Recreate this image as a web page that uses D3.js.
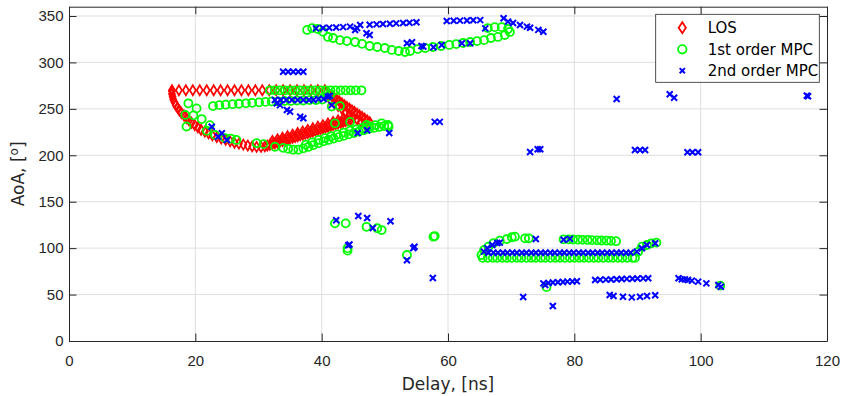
<!DOCTYPE html>
<html>
<head>
<meta charset="utf-8">
<script src="https://cdn.jsdelivr.net/npm/d3@7"></script>
<style>
  body { margin: 0; background: #fff; }
  svg { display: block; font-family: "DejaVu Sans", sans-serif; }
</style>
</head>
<body>
<svg id="chart" width="844" height="396"></svg>
<script>
// axis ticks
const xTicks = [0, 20, 40, 60, 80, 100, 120];
const yTicks = [0, 50, 100, 150, 200, 250, 300, 350];

// LOS (delay ns, AoA deg)
const losTopRow = [[16.3,270],[17.4,270],[18.5,270],[19.6,270],[20.7,270],[21.8,270],[22.9,270],[24.0,270],[25.1,270],[26.2,270],[27.3,270],[28.4,270],[29.5,270],[30.6,270],[31.7,270],[32.8,270],[33.9,270],[35.0,270],[36.1,270],[37.2,270],[38.3,270],[39.4,270],[40.5,270]];
const losLeftCurve = [[16.3,269],[16.3,266],[16.4,263],[16.5,260],[16.7,257],[16.9,254],[17.2,251],[17.5,248],[17.8,245.5],[18.2,243],[18.6,240],[19.0,237.5],[19.4,235],[19.9,232.5],[20.4,230],[20.9,227.5],[21.5,225.5],[22.1,223.5],[22.7,221.5],[23.4,219.5],[24.1,218],[24.8,216.5],[25.5,215],[26.2,213.5],[26.9,212.5],[27.6,211.5],[28.3,210.5],[29.0,209.5],[29.7,209],[30.4,209],[31.0,209.5]];
const losLowerBand = [[31.4,210.3],[31.8,211.2],[32.2,212],[32.6,212.9],[33.0,213.7],[33.4,214.6],[33.8,215.4],[34.2,216.3],[34.6,217.1],[35.0,218],[35.4,218.8],[35.8,219.7],[36.2,220.5],[36.6,221.4],[37.0,222.2],[37.4,223.1],[37.8,223.9],[38.2,224.8],[38.6,225.6],[39.0,226.5],[39.4,227.3],[39.8,228.2],[40.2,229],[40.6,229.9],[41.0,230.7],[41.4,231.6],[41.8,232.4],[42.2,233.3],[42.6,234.1],[43.0,235],[43.4,235.8],[43.8,236.7],[44.2,237.5],[44.6,238.4]];
const losUpperBand = [[32.2,215.5],[33.0,217.2],[33.8,218.9],[34.6,220.6],[35.4,222.3],[36.2,224],[37.0,225.7],[37.8,227.4],[38.6,229.1],[39.4,230.8],[40.2,232.5],[41.0,234.2],[41.8,235.9],[42.6,237.6],[43.4,239.3]];
const losDiagonal = [[40.8,268],[41.2,266],[41.6,264],[42.0,262],[42.4,260],[42.8,258],[43.2,256],[43.6,254],[44.0,252],[44.4,250.2],[44.8,248.4],[45.2,246.6],[45.6,244.8],[46.0,243],[46.4,241.2],[46.8,239.4],[47.2,237.6],[47.6,235.8],[41.4,259],[42.0,256],[42.6,253],[43.2,250],[43.8,247],[44.4,244],[45.0,241],[45.6,238.5],[46.2,236],[46.8,233.5]];

// 1st order MPC
const mpc1Row255 = [[22.8,253],[23.8,254],[24.8,254.5],[25.9,255],[26.9,255.5],[28.0,256],[29.0,256.5],[30.1,257],[31.1,257.5],[32.1,258],[33.1,258],[34.1,258.5],[35.1,258.5],[36.1,259],[37.1,259],[38.1,259.5],[39.1,259.5],[40.1,260],[40.9,263],[41.4,266]];
const mpc1Row270 = [[31.8,270],[32.6,270],[33.4,270],[34.2,270],[35.0,270],[35.8,270],[36.6,270],[37.4,270],[38.2,270],[39.0,270],[39.8,270],[40.6,270],[41.4,270],[42.2,270],[43.0,270],[43.8,270],[44.6,270],[45.4,270],[46.3,270]];
const mpc1LeftCurve = [[18.9,256],[20.2,250.5],[18.4,243.5],[19.7,243],[21.0,239],[22.3,232.5],[18.6,231],[21.8,226.5],[23.1,222],[24.7,218.5],[25.6,218],[26.5,216.5],[29.7,213],[30.8,212],[32.6,209.2]];
const mpc1LowerBand = [[33.9,208],[34.7,207],[35.5,206],[36.3,206],[37.1,207.5],[37.9,209],[38.7,211],[39.5,213],[40.3,215],[41.1,216.5],[41.9,218],[42.7,219.5],[43.5,221],[44.3,222.5],[45.1,224],[45.9,225.5],[46.7,227],[47.5,228.5],[48.3,229.5],[49.1,230.5],[49.9,231.5],[50.6,231]];
const mpc1UpperBand = [[37.5,211.5],[38.5,214],[39.5,216.5],[40.5,218.5],[41.5,220.5],[42.5,222.5],[43.5,224.5],[44.5,226.5],[45.5,228],[46.5,229.5],[47.5,231],[48.5,232.5]];
const mpc1Blob = [[42.9,253],[41.6,252.4],[44.5,236],[42.1,234.4],[47.1,232.6],[49.5,234.4],[50.5,232.6]];
const mpc1Top = [[37.7,335],[38.5,337],[39.4,336],[40.2,333],[41.0,327.4],[41.8,326.3],[42.9,324],[44.0,323],[45.3,322],[46.4,320],[47.6,317.7],[48.8,316.6],[50.0,315.5],[51.1,313.4],[52.2,312.3],[53.2,311.2],[54.0,312.3],[55.2,314.4],[56.4,315.5],[57.6,316.6],[58.9,317.7],[60.2,318.8],[61.3,319.8],[62.4,320.9],[63.5,322],[64.6,323],[65.7,324],[66.8,326.3],[67.9,327.4],[69.0,329.5],[69.8,332.8],[69.5,336],[68.5,338],[67.4,338],[66.3,337]];
const mpc1Scatter = [[42.1,126.7],[43.8,126.7],[47.1,123],[48.8,121.4],[49.5,119.5],[44.1,99.8],[44.1,97.3],[53.5,92.6],[57.7,112.3],[57.9,113],[75.6,58],[103.1,59.6]];
const mpc1RightCurve = [[65.3,92.6],[65.7,98],[66.4,101.6],[67.2,105.5],[68.2,108],[69.3,109.8],[70.1,111.7],[70.6,112.3],[72.2,110.6],[72.8,110.6]];
const mpc1Row90 = [[65.5,89.5],[66.3,89.5],[67.1,89.5],[67.8,89.5],[68.6,89.5],[69.3,89.5],[70.1,89.5],[70.9,89.5],[71.6,89.5],[72.4,89.5],[73.2,89.5],[73.9,89.5],[74.7,89.5],[75.4,89.5],[76.2,89.5],[77.0,89.5],[77.7,89.5],[78.5,89.5],[79.3,89.5],[80.0,89.5],[80.8,89.5],[81.5,89.5],[82.3,89.5],[83.1,89.5],[83.8,89.5],[84.6,89.5],[85.4,89.5],[86.1,89.5],[86.9,89.5],[87.6,89.5],[88.4,89.5],[89.2,89.5],[89.6,89.5],[90.1,96],[90.7,101.6],[91.5,103.4],[92.2,105.2],[93.0,105.9]];
const mpc1Row109 = [[78.3,109.5],[79.1,109.5],[79.8,109.3],[80.6,109.1],[81.3,109],[82.1,108.8],[82.8,108.6],[83.6,108.4],[84.3,108.2],[85.1,108],[85.8,107.8],[86.6,107.5]];

// 2nd order MPC
const mpc2Top = [[39.1,336.7],[40.2,337],[41.2,337.3],[42.3,337.6],[43.4,338],[44.5,338.5],[45.3,334.9],[45.6,337],[46.1,340.3],[47.1,331.4],[47.6,329.5],[47.6,340.5],[48.7,341],[49.7,341.3],[50.8,341.7],[51.8,342],[52.9,342.4],[53.9,342.8],[55.0,343.2],[59.8,344.6],[60.9,344.8],[61.9,345],[63.0,345.2],[64.0,345.4],[65.1,345.5],[68.8,347.5],[69.5,343.9],[70.3,342.5],[71.4,340.3],[72.5,338.5],[73.0,337.4],[74.3,335],[75.1,333]];
const mpc2TopMid = [[53.5,320.6],[54.3,321.7],[55.8,317.7],[56.1,317],[57.7,316.3],[59.0,318.8],[62.2,320.6],[63.5,320.6],[65.9,336.7]];
const mpc2Row290 = [[33.9,290],[34.7,290],[35.5,290],[36.3,290],[37.1,290]];
const mpc2Row260 = [[32.6,259.5],[33.5,259.5],[34.4,259.5],[35.3,259.5],[36.2,259.5],[37.1,259.5],[38.0,259.5],[38.7,259.5],[39.5,260.6],[40.3,260.6],[41.0,263],[41.3,264],[41.6,254],[32.9,256],[33.4,254],[34.5,248.8],[35.0,247],[36.6,241.5],[37.1,239.8]];
const mpc2Left = [[22.6,230.8],[23.6,220],[24.2,223.7],[25.0,216.5],[45.7,224],[47.2,227],[50.7,224],[57.9,236],[58.7,236]];
const mpc2Far = [[86.7,260.6],[95.1,265.7],[95.8,262],[116.8,264.2],[117.0,263.5],[89.6,205.7],[90.4,205.7],[91.2,205.7],[97.9,203.2],[98.7,203.2],[99.6,203.2],[73.0,203.5],[74.2,206.5],[74.6,206.5]];
const mpc2Scatter = [[42.3,130],[45.8,134.6],[47.2,132.5],[48.1,121.7],[50.9,129],[44.2,103],[44.4,104],[54.5,100],[54.7,101.5],[53.5,87],[57.6,67.8],[71.9,47.4],[76.6,37.7],[73.9,109.8],[78.3,109],[79.3,110],[75.4,60.3]];
const mpc2Row95 = [[65.7,96.2],[66.2,100],[67.0,103.4],[67.8,105.5],[68.2,105.9],[66.4,95],[67.2,95],[67.9,95],[68.7,95],[69.4,95],[70.2,95],[70.9,95],[71.7,95],[72.4,95],[73.2,95],[73.9,95],[74.7,95],[75.4,95],[76.2,95],[76.9,95],[77.7,95],[78.4,95],[79.2,95],[79.9,95],[80.7,95],[81.4,95],[82.2,95],[82.9,95],[83.7,95],[84.4,95],[85.2,95],[85.9,95],[86.7,95],[87.4,95],[88.2,95],[88.9,95],[89.9,96.2],[90.7,99.8],[91.5,103.4],[92.8,105.2]];
const mpc2Row64 = [[75.1,62.1],[75.9,62.5],[76.6,63],[77.4,63.3],[78.2,63.6],[78.9,63.9],[79.7,64.1],[80.4,64.3]];
const mpc2Row67 = [[83.3,65.7],[84.1,65.9],[85.0,66.1],[85.8,66.3],[86.7,66.5],[87.5,66.7],[88.3,66.9],[89.2,67.1],[90.0,67.3],[90.9,67.4],[91.7,67.5]];
const mpc2Row48 = [[85.6,49.5],[86.2,48.5],[87.7,47.7],[89.1,47],[90.4,47.7],[91.5,48.5],[92.8,49.2]];
const mpc2Tail = [[96.5,67.5],[97.0,66.4],[97.5,66.4],[98.0,65.7],[98.6,65],[99.6,63.9],[100.9,62.1],[102.8,60.3],[103.2,58.5]];

const losPoints = [...losTopRow, ...losLeftCurve, ...losLowerBand, ...losUpperBand, ...losDiagonal];
const mpc1Points = [...mpc1Row255, ...mpc1Row270, ...mpc1LeftCurve, ...mpc1LowerBand, ...mpc1UpperBand, ...mpc1Blob, ...mpc1Top, ...mpc1Scatter, ...mpc1RightCurve, ...mpc1Row90, ...mpc1Row109];
const mpc2Points = [...mpc2Top, ...mpc2TopMid, ...mpc2Row290, ...mpc2Row260, ...mpc2Left, ...mpc2Far, ...mpc2Scatter, ...mpc2Row95, ...mpc2Row64, ...mpc2Row67, ...mpc2Row48, ...mpc2Tail];

const svg = d3.select("#chart");
const plotLeft = 69, plotRight = 827, plotTop = 6.7, plotBottom = 341;
const axisColor = "#262626";

const x = d3.scaleLinear().domain([0, 120]).range([plotLeft, plotRight]);
const y = d3.scaleLinear().domain([0, 360]).range([plotBottom, plotTop]);

// grid
const grid = svg.append("g").attr("stroke", "#dfdfdf").attr("stroke-width", 1);
grid.selectAll("line.gx").data(xTicks.slice(1, -1)).enter().append("line")
  .attr("x1", d => x(d)).attr("x2", d => x(d)).attr("y1", plotTop).attr("y2", plotBottom);
grid.selectAll("line.gy").data(yTicks.slice(1)).enter().append("line")
  .attr("x1", plotLeft).attr("x2", plotRight).attr("y1", d => y(d)).attr("y2", d => y(d));

// markers
const diamond = "M0,-5L3,0L0,5L-3,0Z";
const cross = "M-3,-3L3,3M-3,3L3,-3";

const marks = svg.append("g");
marks.append("g").selectAll("path").data(losPoints).enter().append("path")
  .attr("d", diamond)
  .attr("transform", d => `translate(${x(d[0])},${y(d[1])})`)
  .attr("fill", "none").attr("stroke", "#ff0000").attr("stroke-width", 1.7);
marks.append("g").selectAll("circle").data(mpc1Points).enter().append("circle")
  .attr("cx", d => x(d[0])).attr("cy", d => y(d[1])).attr("r", 4)
  .attr("fill", "none").attr("stroke", "#00ff00").attr("stroke-width", 1.8);
marks.append("g").selectAll("path").data(mpc2Points).enter().append("path")
  .attr("d", cross)
  .attr("transform", d => `translate(${x(d[0])},${y(d[1])})`)
  .attr("fill", "none").attr("stroke", "#0000ff").attr("stroke-width", 2);

// axes
const tickLen = 7.5;
const styleAxis = g => {
  g.select(".domain").attr("stroke", axisColor).attr("fill", "none");
  g.selectAll(".tick line").attr("stroke", axisColor);
  g.selectAll(".tick text").attr("fill", axisColor).style("font-size", "15px");
};
svg.append("g").attr("transform", `translate(0,${plotBottom})`)
  .call(d3.axisBottom(x).tickValues(xTicks).tickSize(-tickLen).tickPadding(14.8).tickSizeOuter(0))
  .call(styleAxis);
svg.append("g").attr("transform", `translate(${plotLeft},0)`)
  .call(d3.axisLeft(y).tickValues(yTicks).tickSize(-tickLen).tickPadding(5.5).tickSizeOuter(0))
  .call(styleAxis);
svg.append("g").attr("transform", `translate(0,${plotTop})`)
  .call(d3.axisTop(x).tickValues(xTicks).tickSize(-tickLen).tickFormat("").tickSizeOuter(0))
  .call(styleAxis);
svg.append("g").attr("transform", `translate(${plotRight},0)`)
  .call(d3.axisRight(y).tickValues(yTicks).tickSize(-tickLen).tickFormat("").tickSizeOuter(0))
  .call(styleAxis);

// axis labels
svg.append("text").attr("x", (plotLeft + plotRight) / 2).attr("y", 390)
  .attr("text-anchor", "middle").attr("fill", axisColor).style("font-size", "17px")
  .text("Delay, [ns]");
const yl = svg.append("text")
  .attr("transform", `translate(24,${(plotTop + plotBottom) / 2}) rotate(-90)`)
  .attr("text-anchor", "middle").attr("fill", axisColor).style("font-size", "17px");
yl.append("tspan").text("AoA, [");
yl.append("tspan").attr("dy", -6).style("font-size", "12px").text("o");
yl.append("tspan").attr("dy", 6).text("]");

// legend
const legend = svg.append("g");
legend.append("rect").attr("x", 655.7).attr("y", 14.3).attr("width", 163.6).attr("height", 68)
  .attr("fill", "#fff").attr("stroke", axisColor).attr("stroke-width", 0.8);
const legendItems = [
  { label: "LOS", kind: "los" },
  { label: "1st order MPC", kind: "mpc1" },
  { label: "2nd order MPC", kind: "mpc2" }
];
const legendY = [27.7, 49.3, 70.7];
legendItems.forEach((item, i) => {
  const g = legend.append("g").attr("transform", `translate(682.3,${legendY[i]})`);
  if (item.kind === "los") {
    g.append("path").attr("d", "M0,-5.5L3.6,0L0,5.5L-3.6,0Z").attr("fill", "none").attr("stroke", "#ff0000").attr("stroke-width", 1.8);
  } else if (item.kind === "mpc1") {
    g.append("circle").attr("r", 4.2).attr("fill", "none").attr("stroke", "#00ff00").attr("stroke-width", 1.8);
  } else {
    g.append("path").attr("d", "M-2.6,-2.6L2.6,2.6M-2.6,2.6L2.6,-2.6").attr("fill", "none").attr("stroke", "#0000ff").attr("stroke-width", 2);
  }
  g.append("text").attr("x", 25.4).attr("dy", "0.35em").attr("fill", "#000")
    .style("font-size", "15px").text(item.label);
});
</script>
</body>
</html>
